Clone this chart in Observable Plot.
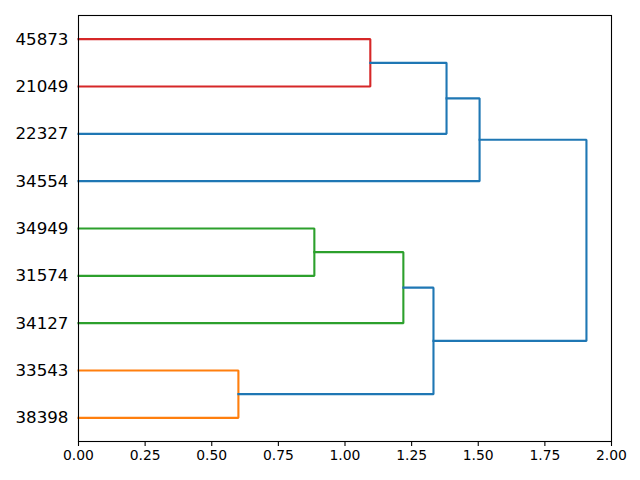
<!DOCTYPE html>
<html>
<head>
<meta charset="utf-8">
<script src="https://cdn.jsdelivr.net/npm/d3@7"></script>
<script src="https://cdn.jsdelivr.net/npm/@observablehq/plot@0.6"></script>
<style>
  html, body { margin: 0; padding: 0; background: #fff; }
  #chart { width: 640px; height: 480px; color: #000; }
  svg { font-family: "DejaVu Sans", sans-serif; }
</style>
</head>
<body>
<div id="chart"></div>
<script>
// Leaves, bottom to top (leaf i sits at position 10*i + 5)
const leaves = ["38398", "33543", "34127", "31574", "34949", "34554", "22327", "21049", "45873"];

// Merges (node ids 9..16): children by node id, merge distance, link colour group
const mergeLeft   = [1, 4, 10, 8, 11, 12, 14, 15];
const mergeRight  = [0, 3, 2, 7, 9, 6, 5, 13];
const mergeHeight = [0.600, 0.885, 1.219, 1.095, 1.332, 1.381, 1.505, 1.906];
const mergeColor  = ["#ff7f0e", "#2ca02c", "#2ca02c", "#d62728", "#1f77b4", "#1f77b4", "#1f77b4", "#1f77b4"];

const xTicks = [0, 0.25, 0.5, 0.75, 1.0, 1.25, 1.5, 1.75, 2.0];

// Node positions derived from the linkage
const nodeX = leaves.map(() => 0);
const nodeY = leaves.map((_, i) => 10 * i + 5);
mergeHeight.forEach((h, k) => {
  const a = mergeLeft[k], b = mergeRight[k];
  nodeX.push(h);
  nodeY.push((nodeY[a] + nodeY[b]) / 2);
});

const pts = [];
mergeHeight.forEach((h, k) => {
  const a = mergeLeft[k], b = mergeRight[k], c = mergeColor[k];
  pts.push({id: k, x: nodeX[a], y: nodeY[a], c});
  pts.push({id: k, x: h, y: nodeY[a], c});
  pts.push({id: k, x: h, y: nodeY[b], c});
  pts.push({id: k, x: nodeX[b], y: nodeY[b], c});
});

const leafPos = leaves.map((_, i) => 10 * i + 5);

const chart = Plot.plot({
  width: 640,
  height: 480,
  marginLeft: 78,
  marginRight: 29,
  marginTop: 15,
  marginBottom: 39,
  style: {background: "#fff", color: "#000", fontFamily: "DejaVu Sans, sans-serif"},
  x: {domain: [0, 2], label: null},
  y: {domain: [0, 90], label: null},
  marks: [
    Plot.line(pts, {x: "x", y: "y", z: "id", stroke: "c", strokeWidth: 2.1, strokeLinejoin: "miter", strokeLinecap: "square"}),
    Plot.frame({stroke: "#000", strokeWidth: 1.1}),
    Plot.axisX({ticks: xTicks, tickFormat: d3.format(".2f"), tickSize: 5, tickPadding: 4, fontSize: 13.9, stroke: "#000", strokeWidth: 1.1, label: null}),
    Plot.axisY({ticks: leafPos, tickFormat: (d) => leaves[(d - 5) / 10], tickSize: 0, tickPadding: 10, fontSize: 16.7, label: null})
  ]
});
document.getElementById("chart").appendChild(chart);
</script>
</body>
</html>
